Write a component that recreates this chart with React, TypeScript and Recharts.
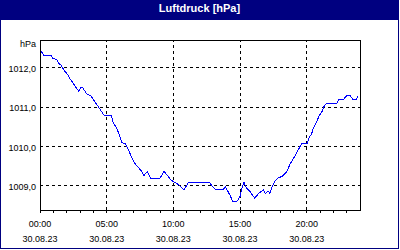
import React from 'react'
import {
  LineChart,
  Line,
  XAxis,
  YAxis,
  CartesianGrid,
  ReferenceLine,
  ReferenceArea,
  Label,
} from 'recharts'

const NAVY = '#000080'
const FONT = '"Liberation Sans", Arial, sans-serif'

// hours since 00:00 on 30.08.23
const hours = [
  0.0, 0.3, 0.85, 0.95, 1.15, 1.3, 1.4, 1.55, 1.7, 1.85, 2.1, 2.25, 2.4, 2.6, 2.8, 2.9,
  3.05, 3.2, 3.35, 3.55, 3.8, 4.0, 4.2, 4.4, 4.6, 4.8, 5.35, 5.5, 5.75, 5.95, 6.15, 6.4,
  6.6, 6.85, 7.1, 7.35, 7.6, 7.8, 8.05, 8.3, 9.0, 9.3, 9.55, 9.75, 9.95, 10.25, 10.5, 10.8,
  11.15, 12.7, 12.9, 13.2, 13.7, 13.9, 14.1, 14.3, 14.45, 14.75, 15.0, 15.1, 15.3, 15.5,
  15.75, 16.1, 16.4, 16.6, 16.75, 16.9, 17.1, 17.25, 17.4, 17.6, 17.85, 18.15, 18.5, 18.75,
  19.1, 19.5, 19.65, 20.05, 20.2, 20.35, 20.5, 20.75, 20.95, 21.15, 21.3, 21.5, 22.25, 22.4,
  22.75, 23.0, 23.25, 23.5, 23.7, 23.85,
]

// air pressure in hPa
const pressure = [
  1012.46, 1012.32, 1012.32, 1012.25, 1012.22, 1012.2, 1012.12, 1012.08, 1012.0, 1011.92,
  1011.82, 1011.72, 1011.66, 1011.55, 1011.46, 1011.41, 1011.5, 1011.5, 1011.42, 1011.32,
  1011.3, 1011.2, 1011.1, 1011.0, 1010.9, 1010.8, 1010.8, 1010.6, 1010.47, 1010.3, 1010.1,
  1010.07, 1009.94, 1009.75, 1009.58, 1009.48, 1009.38, 1009.27, 1009.37, 1009.2, 1009.2,
  1009.37, 1009.27, 1009.18, 1009.12, 1009.07, 1009.0, 1008.9, 1009.1, 1009.1, 1009.0,
  1008.9, 1008.9, 1008.98, 1008.86, 1008.73, 1008.6, 1008.6, 1008.73, 1008.9, 1009.09,
  1008.94, 1008.86, 1008.69, 1008.81, 1008.86, 1008.9, 1008.81, 1008.88, 1008.81, 1008.98,
  1009.11, 1009.21, 1009.24, 1009.36, 1009.55, 1009.75, 1010.0, 1010.08, 1010.08, 1010.25,
  1010.3, 1010.47, 1010.64, 1010.79, 1010.89, 1011.02, 1011.1, 1011.1, 1011.19, 1011.19,
  1011.3, 1011.3, 1011.19, 1011.19, 1011.27,
]

const hourTicks = [0, 1, 2, 3, 4, 5, 6, 7, 8, 9, 10, 11, 12, 13, 14, 15, 16, 17, 18, 19, 20, 21, 22, 23]
const labelHours = [0, 5, 10, 15, 20]
const dateLabel = '30.08.23'
const pressureTicks = [1009, 1010, 1011, 1012]
const pressureDomain = [1008.39, 1012.71]

const data = hours.map((h, i) => ({ h, p: pressure[i] }))

function TimeTick({ x, y, payload }: any) {
  if (!labelHours.includes(payload.value)) return <g />
  const hh = String(payload.value).padStart(2, '0') + ':00'
  return (
    <g fontFamily={FONT} fontSize={9} fill="#000">
      <text x={x} y={y} dy={14} textAnchor="middle">{hh}</text>
      <text x={x} y={y} dy={28.5} textAnchor="middle">{dateLabel}</text>
    </g>
  )
}

function PressureTick({ x, y, payload }: any) {
  return (
    <text x={x} y={y} dy={4} textAnchor="end" fontFamily={FONT} fontSize={9} fill="#000">
      {payload.value.toFixed(1).replace('.', ',')}
    </text>
  )
}

function UnitLabel({ viewBox }: any) {
  return (
    <text
      x={viewBox.x + viewBox.width - 4}
      y={viewBox.y + 7}
      textAnchor="end"
      fontFamily={FONT}
      fontSize={9}
      fill="#000"
    >
      hPa
    </text>
  )
}

export default function App() {
  return (
    <div style={{ position: 'absolute', left: 0, top: 0, width: 400, height: 250, background: '#fff' }}>
      <style>{'.crisp line, .crisp rect, .crisp path { shape-rendering: crispEdges; }'}</style>
      <div
        style={{
          position: 'absolute',
          left: 0,
          top: 0,
          width: 399,
          height: 249,
          boxSizing: 'border-box',
          border: `1px solid ${NAVY}`,
          background: '#fff',
        }}
      />
      <div
        style={{
          position: 'absolute',
          left: 0,
          top: 0,
          width: 399,
          height: 20,
          background: NAVY,
          color: '#fff',
          fontFamily: FONT,
          fontWeight: 'bold',
          fontSize: 11,
          lineHeight: '17px',
          textAlign: 'center',
        }}
      >
        Luftdruck [hPa]
      </div>
      <div className="crisp" style={{ position: 'absolute', left: 0, top: 0 }}>
        <LineChart width={400} height={250} data={data} margin={{ top: 40, right: 40, bottom: 0, left: 0 }}>
          <CartesianGrid vertical={false} stroke="#000" strokeDasharray="3 3" />
          {labelHours.slice(1).map((h) => (
            <ReferenceLine key={h} x={h} stroke="#000" strokeDasharray="3 3" />
          ))}
          <ReferenceArea
            x1={0}
            x2={24}
            y1={pressureDomain[0]}
            y2={pressureDomain[1]}
            fill="none"
            fillOpacity={0}
            stroke="#000"
            strokeOpacity={1}
          />
          <XAxis
            dataKey="h"
            type="number"
            domain={[0, 24]}
            ticks={hourTicks}
            interval={0}
            height={40}
            tickSize={3}
            tickMargin={0}
            axisLine={{ stroke: '#000' }}
            tickLine={{ stroke: '#000' }}
            tick={<TimeTick />}
          />
          <YAxis
            type="number"
            domain={pressureDomain}
            ticks={pressureTicks}
            allowDataOverflow
            width={40}
            tickSize={0}
            tickMargin={4}
            tickLine={false}
            axisLine={{ stroke: '#000' }}
            tick={<PressureTick />}
          >
            <Label content={<UnitLabel />} />
          </YAxis>
          <Line
            dataKey="p"
            type="linear"
            stroke="#0000ff"
            strokeWidth={1}
            dot={false}
            isAnimationActive={false}
          />
        </LineChart>
      </div>
    </div>
  )
}
